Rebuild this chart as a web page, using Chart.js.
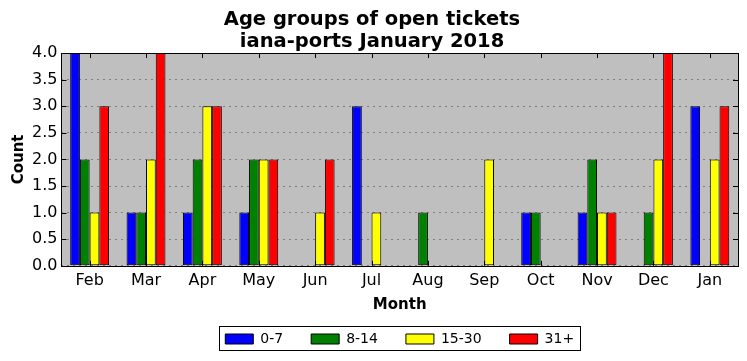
<!DOCTYPE html>
<html>
<head>
<meta charset="utf-8">
<script src="https://cdn.jsdelivr.net/npm/chart.js@4/dist/chart.umd.min.js"></script>
<style>
    html, body { margin: 0; padding: 0; background: #fff; }
    #wrap { width: 747px; height: 361px; }
</style>
</head>
<body>
<div id="wrap"><canvas id="myChart" width="747" height="361"></canvas></div>
<script>
var months = ['Feb', 'Mar', 'Apr', 'May', 'Jun', 'Jul', 'Aug', 'Sep', 'Oct', 'Nov', 'Dec', 'Jan'];
var age0to7 = [4, 1, 1, 1, 0, 3, 0, 0, 1, 1, 0, 3];
var age8to14 = [2, 1, 2, 2, 0, 0, 1, 0, 1, 2, 1, 0];
var age15to30 = [1, 2, 3, 2, 1, 1, 0, 2, 0, 1, 2, 2];
var age31plus = [3, 4, 3, 2, 2, 0, 0, 0, 0, 1, 4, 3];
var yTicks = [0, 0.5, 1, 1.5, 2, 2.5, 3, 3.5, 4];

var font = "'DejaVu Sans', sans-serif";

// grey plot background, black frame and inward ticks like the classic style
var plotFrame = {
    id: 'plotFrame',
    beforeDraw: function (chart) {
        var a = chart.chartArea;
        var ctx = chart.ctx;
        ctx.save();
        ctx.fillStyle = '#bfbfbf';
        ctx.fillRect(a.left, a.top, a.right - a.left, a.bottom - a.top);
        ctx.restore();
    },
    afterDatasetsDraw: function (chart) {
        var a = chart.chartArea;
        var ctx = chart.ctx;
        var x = chart.scales.x;
        var y = chart.scales.y;
        ctx.save();
        ctx.strokeStyle = '#000';
        ctx.lineWidth = 1;
        ctx.beginPath();
        yTicks.forEach(function (v) {
            var py = Math.round(y.getPixelForValue(v)) + 0.5;
            ctx.moveTo(a.left, py); ctx.lineTo(a.left + 5, py);
            ctx.moveTo(a.right, py); ctx.lineTo(a.right - 5, py);
        });
        months.forEach(function (m, i) {
            var px = Math.round(x.getPixelForValue(i)) + 0.5;
            ctx.moveTo(px, a.bottom); ctx.lineTo(px, a.bottom - 5);
            ctx.moveTo(px, a.top); ctx.lineTo(px, a.top + 5);
        });
        ctx.stroke();
        ctx.strokeRect(Math.round(a.left) + 0.5, Math.round(a.top) + 0.5,
            Math.round(a.right - a.left), Math.round(a.bottom - a.top));
        ctx.restore();
    },
    afterDraw: function (chart) {
        var boxes = chart.legend.legendHitBoxes;
        if (!boxes || !boxes.length) return;
        var l = Infinity, r = -Infinity, t = Infinity, b = -Infinity;
        boxes.forEach(function (h) {
            l = Math.min(l, h.left); r = Math.max(r, h.left + h.width);
            t = Math.min(t, h.top); b = Math.max(b, h.top + h.height);
        });
        var ctx = chart.ctx;
        ctx.save();
        ctx.strokeStyle = '#000';
        ctx.lineWidth = 1;
        ctx.strokeRect(Math.round(l - 6) + 0.5, Math.round(t - 6) + 0.5,
            Math.round(r - l + 12), Math.round(b - t + 10));
        ctx.restore();
    }
};

function bars(label, data, color) {
    return {
        label: label,
        data: data,
        backgroundColor: color,
        borderColor: '#000',
        borderWidth: 1,
        borderSkipped: false,
        categoryPercentage: 0.69,
        barPercentage: 1.0
    };
}

document.addEventListener('DOMContentLoaded', function () {
    const ctx = document.getElementById('myChart');

    new Chart(ctx, {
        type: 'bar',
        data: {
            labels: months,
            datasets: [
                bars('0-7', age0to7, '#0000ff'),
                bars('8-14', age8to14, '#008000'),
                bars('15-30', age15to30, '#ffff00'),
                bars('31+', age31plus, '#ff0000')
            ]
        },
        options: {
            responsive: false,
            animation: false,
            devicePixelRatio: 1,
            layout: { padding: { left: 6, right: 9, top: 0, bottom: 5 } },
            plugins: {
                title: {
                    display: true,
                    text: ['Age groups of open tickets', 'iana-ports January 2018'],
                    color: '#000',
                    font: { family: font, size: 19.5, weight: 'bold', lineHeight: 1.13 },
                    padding: { top: 9, bottom: 0 }
                },
                legend: {
                    position: 'bottom',
                    fullSize: false,
                    labels: {
                        color: '#000',
                        font: { family: font, size: 14 },
                        boxWidth: 28,
                        boxHeight: 10,
                        padding: 28
                    }
                },
                tooltip: { enabled: false }
            },
            scales: {
                x: {
                    offset: true,
                    grid: { display: false, drawTicks: false },
                    border: { display: false },
                    ticks: { color: '#000', font: { family: font, size: 16 }, padding: 5 },
                    title: {
                        display: true,
                        text: 'Month',
                        color: '#000',
                        font: { family: font, size: 15, weight: 'bold' },
                        padding: { top: 1, bottom: -10 }
                    }
                },
                y: {
                    min: 0,
                    max: 4,
                    afterBuildTicks: function (scale) {
                        scale.ticks = yTicks.map(function (v) { return { value: v }; });
                    },
                    grid: { color: '#808080', drawTicks: false, lineWidth: 1 },
                    border: { display: false, dash: [2, 4] },
                    ticks: {
                        color: '#000',
                        font: { family: font, size: 16 },
                        padding: 4,
                        callback: function (v) { return Number(v).toFixed(1); }
                    },
                    title: {
                        display: true,
                        text: 'Count',
                        color: '#000',
                        font: { family: font, size: 15, weight: 'bold' },
                        padding: { top: 4, bottom: 0 }
                    }
                }
            }
        },
        plugins: [plotFrame]
    });
});
</script>
</body>
</html>
